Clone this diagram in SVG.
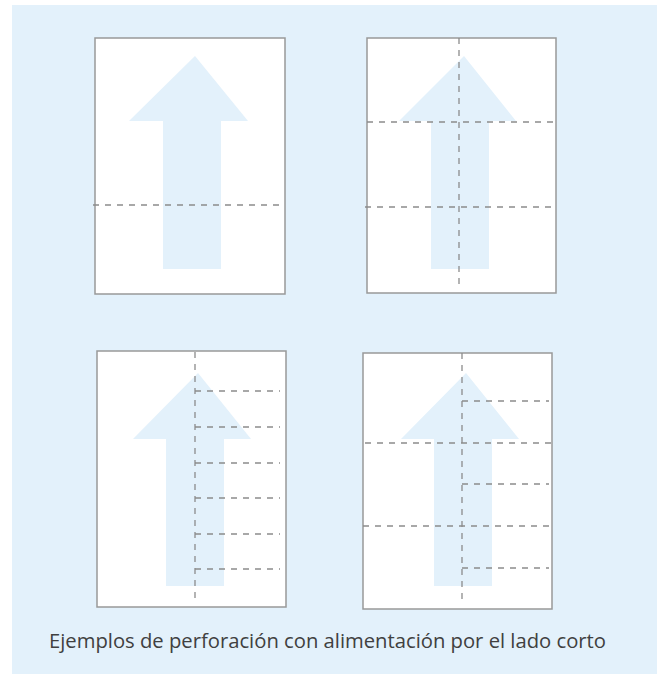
<svg xmlns="http://www.w3.org/2000/svg" width="657" height="674" viewBox="0 0 657 674">
<style>
.page{fill:#ffffff;stroke:#999999;stroke-width:1.5}
.arrow{fill:#e3f1fb}
.cut{fill:none;stroke:#8c8c8c;stroke-width:1.3;stroke-dasharray:6 6}
.caption{font-family:"Open Sans","Noto Sans",sans-serif;font-size:20px;fill:#404040}
</style>
<rect x="12" y="5" width="645" height="669" fill="#e3f1fb"/>
<g id="sheet1">
<rect class="page" x="95" y="38" width="190" height="256"/>
<polygon class="arrow" points="195,56 248,121 221,121 221,269 163,269 163,121 129,121"/>
</g>
<g id="sheet2">
<rect class="page" x="367" y="38" width="189" height="255"/>
<polygon class="arrow" points="464,56 516,121 489,121 489,269 431,269 431,121 399,121"/>
</g>
<g id="sheet3">
<rect class="page" x="97" y="351" width="189" height="256"/>
<polygon class="arrow" points="198,373 251,439 224,439 224,586 166,586 166,439 133,439"/>
</g>
<g id="sheet4">
<rect class="page" x="363" y="353" width="189" height="256"/>
<polygon class="arrow" points="466,373 519,439 492,439 492,586 434,586 434,439 401,439"/>
</g>
<g id="connectors">
<path class="cut" d="M93,205H280"/>
<path class="cut" d="M459,38V289M367,122H553M365,207H552"/>
<path class="cut" d="M195,352V599M195,391H280M195,427H280M195,463H280M195,498H280M195,534H280M195,569H280"/>
<path class="cut" d="M462,353V602M365,443H552M363,526H549M462,401H549M462,484H549M462,568H549"/>
</g>
<text class="caption" x="327.5" y="648" text-anchor="middle" textLength="557" lengthAdjust="spacingAndGlyphs">Ejemplos de perforación con alimentación por el lado corto</text>
</svg>
